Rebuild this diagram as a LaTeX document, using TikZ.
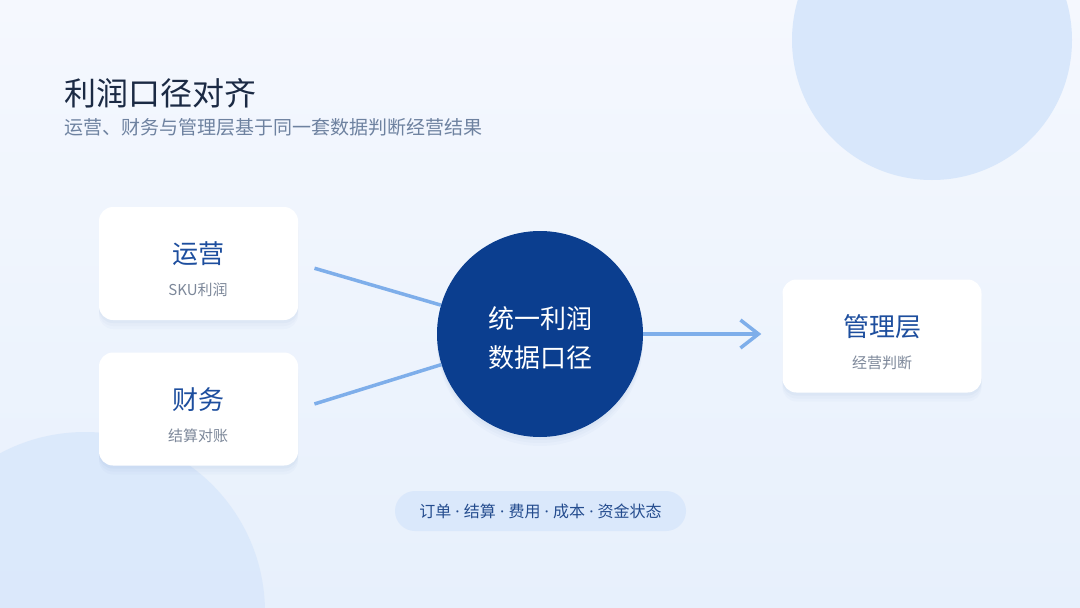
\documentclass[tikz,border=0pt]{standalone}
\usepackage{fontspec}
\setmainfont{Noto Sans CJK SC}
\newfontfamily\dotfont{Noto Sans}
\usetikzlibrary{arrows.meta,shadows}

\definecolor{bgtop}{HTML}{F5F8FE}
\definecolor{bgbot}{HTML}{E7F0FC}
\definecolor{decoblue}{HTML}{D8E7FB}
\definecolor{titleink}{HTML}{1B2A44}
\definecolor{subink}{HTML}{6E82A0}
\definecolor{boxink}{HTML}{1D4E9E}
\definecolor{noteink}{HTML}{7D889A}
\definecolor{hubblue}{HTML}{0B3E8F}
\definecolor{linkblue}{HTML}{7EAEEA}
\definecolor{pillfill}{HTML}{DAE8FB}
\definecolor{pillink}{HTML}{244C8E}

\newcommand{\sepdot}{{\dotfont\ ·\ }}

\begin{document}
\begin{tikzpicture}[x=1pt, y=-1pt,
  softshadow/.style={
    drop shadow={shadow xshift=0pt, shadow yshift=-9pt, opacity=0.02, fill=boxink},
    drop shadow={shadow xshift=0pt, shadow yshift=-6pt, opacity=0.025, fill=boxink},
    drop shadow={shadow xshift=0pt, shadow yshift=-3pt, opacity=0.03, fill=boxink}},
  card/.style={fill=white, rounded corners=14pt, minimum width=199pt, minimum height=113pt, inner sep=0pt, softshadow},
  cardhead/.style={text=boxink, font=\fontsize{26}{30}\selectfont, inner sep=0pt},
  cardnote/.style={text=noteink, font=\fontsize{15}{18}\selectfont, inner sep=0pt},
  link/.style={draw=linkblue, line width=3.5pt}]
\useasboundingbox (0,0) rectangle (1080,608);
\shade[top color=bgtop, bottom color=bgbot] (0,0) rectangle (1080,608);
\fill[decoblue] (932,40) circle (140);
\fill[decoblue, opacity=0.8] (85,612) circle (180);
\node[anchor=west, text=titleink, font=\fontsize{32}{36}\selectfont, inner sep=0pt] (title) at (64,93) {利润口径对齐};
\node[anchor=west, text=subink, font=\fontsize{19}{22}\selectfont, inner sep=0pt] (subtitle) at (64,127) {运营、财务与管理层基于同一套数据判断经营结果};
\node[card] (ops) at (198.5,263.5) {};
\node[cardhead] (opsT) at (198,254) {运营};
\node[cardnote] (opsN) at (198,290) {SKU利润};
\node[card] (fin) at (198.5,409) {};
\node[cardhead] (finT) at (198,400) {财务};
\node[cardnote] (finN) at (198,436) {结算对账};
\node[card] (mgmt) at (882,336) {};
\node[cardhead] (mgmtT) at (882,327) {管理层};
\node[cardnote] (mgmtN) at (882,363) {经营判断};
\node[circle, fill=hubblue, minimum size=206pt, inner sep=0pt, softshadow] (hub) at (540,334) {};
\node[text=white, font=\fontsize{26}{30}\selectfont, inner sep=0pt] (hubA) at (540,319) {统一利润};
\node[text=white, font=\fontsize{26}{30}\selectfont, inner sep=0pt] (hubB) at (540,358) {数据口径};
\draw[link, shorten <=17pt] (ops.east) -- (hub);
\draw[link, shorten <=17pt] (fin.east) -- (hub);
\draw[link, shorten >=21pt, -{Straight Barb[length=18pt, width=28pt, line width=3.5pt]}] (hub.east) -- (mgmt.west |- hub.east);
\node[fill=pillfill, rounded corners=20pt, minimum width=291pt, minimum height=40pt, inner sep=0pt,
  text=pillink, font=\fontsize{16}{19}\selectfont] (scope) at (540.5,511) {订单\sepdot 结算\sepdot 费用\sepdot 成本\sepdot 资金状态};
\end{tikzpicture}
\end{document}
